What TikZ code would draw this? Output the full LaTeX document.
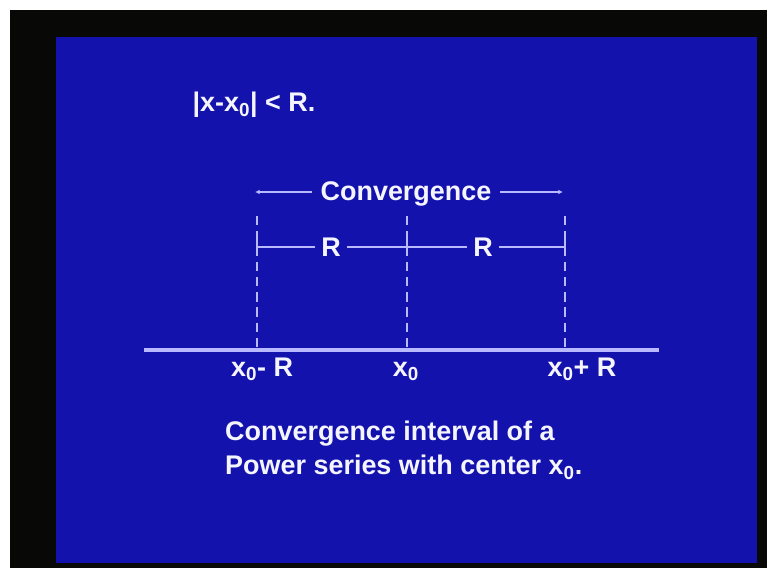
\documentclass[tikz,border=0pt]{standalone}
\usepackage{fontspec}
\setmainfont{Liberation Sans}
\usepackage{xcolor}
\usetikzlibrary{arrows.meta}
\definecolor{slideblue}{RGB}{20,18,172}
\definecolor{slideline}{RGB}{185,185,255}
\definecolor{slidetext}{RGB}{245,245,255}
\definecolor{framedark}{RGB}{8,9,6}

\begin{document}
\begin{tikzpicture}[x=0.03cm, y=-0.03cm, every node/.style={font=\fontsize{23}{29}\selectfont\bfseries, text=slidetext}, txt/.style={inner sep=0pt}, axisline/.style={slideline, line width=3.2pt}, guide/.style={slideline, line width=2.2pt, dash pattern=on 8pt off 5pt}, dimline/.style={slideline, line width=1.9pt}, arrow/.style={-{Latex[length=4pt,width=4pt]}, slideline, line width=1.9pt}]
    \fill[white] (0,0) rectangle (767,577);
    \fill[framedark] (10,10) rectangle (767,568);
    \fill[slideblue] (56,37) rectangle (757,563);
    \useasboundingbox (0,0) rectangle (767,577);
    \node[txt] (ineq) at (254,105) {|x-x\textsubscript{0}| < R.};
    % number line and the three points
    \coordinate (lft) at (144,350);
    \coordinate (rgt) at (659,350);
    \coordinate (a) at (257,350);
    \coordinate (c) at (407,350);
    \coordinate (b) at (565,350);
    \coordinate (atop) at (257,216);
    \coordinate (ctop) at (407,216);
    \coordinate (btop) at (565,216);
    \draw[axisline] (lft) -- (rgt);
    \draw[guide] (atop) -- (a);
    \draw[guide] (ctop) -- (c);
    \draw[guide] (btop) -- (b);
    \node[txt, anchor=base] (la) at (262,376) {x\textsubscript{0}- R};
    \node[txt, anchor=base] (lc) at (406,376) {x\textsubscript{0}};
    \node[txt, anchor=base] (lb) at (582,376) {x\textsubscript{0}+ R};
    % radius marks
    \node[inner sep=5pt] (r1) at (331,247) {R};
    \node[inner sep=5pt] (r2) at (483,247) {R};
    \coordinate (ra) at (257,247);
    \coordinate (rc) at (407,247);
    \coordinate (rb) at (565,247);
    \draw[dimline] (ra) -- (r1) (r1) -- (rc) -- (r2) (r2) -- (rb);
    \draw[dimline] (ra) -- ++(0,-10) (rc) -- ++(0,-7) (rb) -- ++(0,-10);
    % convergence arrow
    \node[inner sep=7pt] (conv) at (406,194) {Convergence};
    \coordinate (convl) at (255,192);
    \coordinate (convr) at (563,192);
    \draw[arrow] (conv.west |- convl) -- (convl);
    \draw[arrow] (conv.east |- convr) -- (convr);
    \node[txt, align=left, anchor=north west] (cap) at (225,421) {Convergence interval of a\\Power series with center x\textsubscript{0}.};
  \end{tikzpicture}
\end{document}
